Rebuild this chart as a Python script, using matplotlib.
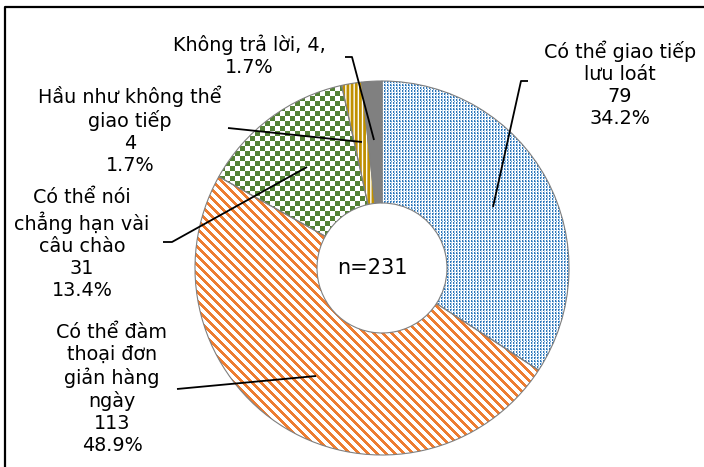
import numpy as np
import matplotlib
matplotlib.use("Agg")
import matplotlib.pyplot as plt
from matplotlib.colors import to_rgb

# données
labels = ["Có thể giao tiếp\nlưu loát", "Có thể đàm\nthoại đơn\ngiản hàng\nngày",
          "Có thể nói\nchẳng hạn vài\ncâu chào", "Hầu như không thể\ngiao tiếp",
          "Không trả lời"]
counts = [79, 113, 31, 4, 4]
percents = [34.2, 48.9, 13.4, 1.7, 1.7]
total = 231

plt.rcParams['font.family'] = ['DejaVu Sans']
plt.rcParams['hatch.linewidth'] = 2.0

W, H = 704, 467
fig = plt.figure(figsize=(W / 100, H / 100), dpi=100)
ax = fig.add_axes([0, 0, 1, 1])


def iy(y):
    # ligne pixel de l'image -> y des données
    return H - y


cx, cy = 382, iy(268)
R = 187
ring = 122

wedges, _ = ax.pie(counts, startangle=90, counterclock=False, center=(cx, cy),
                   radius=R, colors=["white"] * 5,
                   wedgeprops=dict(width=ring, linewidth=0))
wedges[3].set_hatch("||||")
wedges[3].set_edgecolor("#BF9000")
wedges[4].set_facecolor("#808080")
wedges[4].set_edgecolor("#808080")

# motifs en image (pointillé bleu, rayures orange, damier vert)
N = 2 * R
ii, jj = np.mgrid[0:N, 0:N]
blue = np.ones((N, N, 3))
blue[(jj % 3 == 0) & (ii % 3 != 2)] = to_rgb("#2E75B6")
blue[(jj % 3 == 1)] = to_rgb("#BDD7EE")
blue[(jj % 3 == 1) & (ii % 4 == 0)] = to_rgb("#5B9BD5")
orange = np.ones((N, N, 3))
orange[((ii - jj) % 9) < 4] = to_rgb("#ED7D31")
green = np.ones((N, N, 3))
green[((ii // 5 + jj // 5) % 2) == 0] = to_rgb("#548235")

ext = (cx - R, cx + R, cy - R, cy + R)
for k, img in [(0, blue), (1, orange), (2, green)]:
    im = ax.imshow(img, extent=ext, interpolation="nearest", zorder=2)
    im.set_clip_path(wedges[k])

outline, _ = ax.pie(counts, startangle=90, counterclock=False, center=(cx, cy),
                    radius=R, colors=["none"] * 5,
                    wedgeprops=dict(width=ring, linewidth=0.8, edgecolor="#7F7F7F"))
for w in outline:
    w.set_zorder(3)

ax.text(372, iy(268), "n=" + str(total), ha="center", va="center",
        fontsize=15, zorder=5)

# étiquettes
fs = 13.8
txt = [
    (620, 84, labels[0] + "\n" + str(counts[0]) + "\n" + str(percents[0]) + "%"),
    (112, 389, labels[1] + "\n" + str(counts[1]) + "\n" + str(percents[1]) + "%"),
    (82, 244, labels[2] + "\n" + str(counts[2]) + "\n" + str(percents[2]) + "%"),
    (130, 130, labels[3] + "\n" + str(counts[3]) + "\n" + str(percents[3]) + "%"),
    (249, 56, labels[4] + ", " + str(counts[4]) + ",\n" + str(percents[4]) + "%"),
]
for x, y, s in txt:
    ax.text(x, iy(y), s, ha="center", va="center", fontsize=fs,
            linespacing=1.2, zorder=5)

# lignes de rappel
leaders = [
    [(528, 81), (521, 81), (493, 207)],
    [(177, 389), (316, 376)],
    [(163, 242), (172, 242), (307, 167)],
    [(228, 128), (362, 142)],
    [(345, 57), (352, 57), (374, 140)],
]
for pts in leaders:
    xs = [p[0] for p in pts]
    ys = [iy(p[1]) for p in pts]
    ax.plot(xs, ys, color="black", lw=1.3, zorder=4, solid_capstyle="butt")

# cadre
ax.plot([5, 5, W + 5], [-5, iy(6.5), iy(6.5)], color="black", lw=1.6, zorder=6)

ax.set_xlim(0, W)
ax.set_ylim(0, H)
ax.set_aspect("auto")
ax.axis("off")

fig.savefig("out.png", dpi=100)
